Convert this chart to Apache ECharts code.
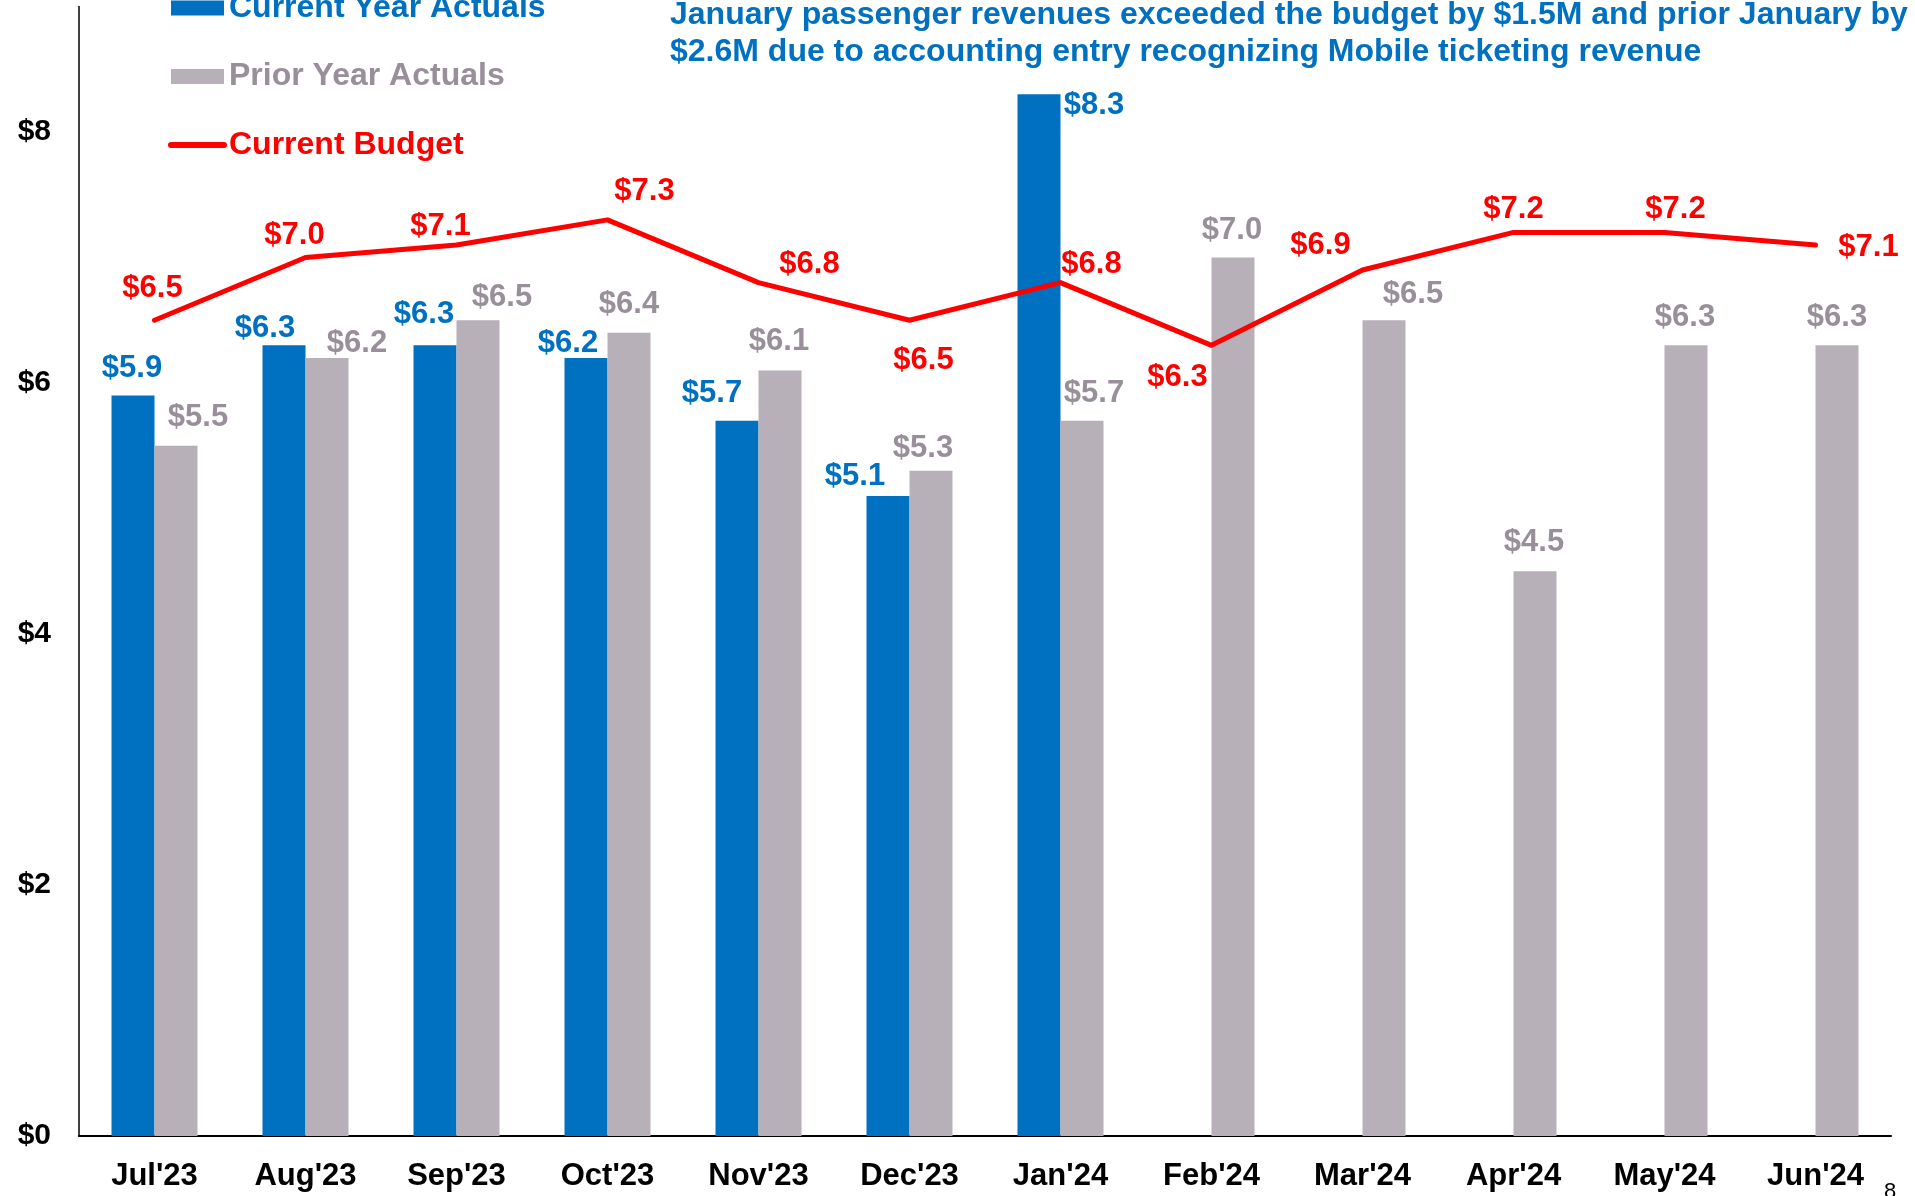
<!DOCTYPE html>
<html>
<head>
<meta charset="utf-8">
<script src="https://cdn.jsdelivr.net/npm/echarts@6/dist/echarts.min.js"></script>
<style>
html,body{margin:0;padding:0;background:#fff;}
#chart{width:1915px;height:1196px;}
</style>
</head>
<body>
<div id="chart"></div>
<script>
// ---- data ----
const categories = ["Jul'23","Aug'23","Sep'23","Oct'23","Nov'23","Dec'23","Jan'24","Feb'24","Mar'24","Apr'24","May'24","Jun'24"];
const currentYear = [5.9, 6.3, 6.3, 6.2, 5.7, 5.1, 8.3, null, null, null, null, null];
const priorYear = [5.5, 6.2, 6.5, 6.4, 6.1, 5.3, 5.7, 7.0, 6.5, 4.5, 6.3, 6.3];
const budget = [6.5, 7.0, 7.1, 7.3, 6.8, 6.5, 6.8, 6.3, 6.9, 7.2, 7.2, 7.1];
const yTicks = [0, 2, 4, 6, 8];
const seriesNames = ["Current Year Actuals", "Prior Year Actuals", "Current Budget"];
const noteLines = [
  "January passenger revenues exceeded the budget by $1.5M and prior January by",
  "$2.6M due to accounting entry recognizing Mobile ticketing revenue"
];
const pageNumber = "8";

// ---- label placement (style only) ----
const currentLabelOffsets = [[-1,-30],[-19,-19],[-11,-33],[-18,-17],[-25,-30],[-33,-22],[55,9]];
const priorLabelOffsets = [[22,-31],[30,-17],[24,-25],[0,-31],[-1,-31],[-8,-25],[12,-30],[-1,-30],[29,-28],[-1,-31],[-1,-30],[0,-30]];
const budgetLabelOffsets = [[-2,-34],[-11,-25],[-16,-21],[37,-31],[51,-21],[14,38],[31,-21],[-34,30],[-42,-27],[0,-25],[11,-25],[53,0]];
const DY = 2.5;
const shift = o => [o[0], o[1] + DY];

const FONT = 'Liberation Sans';
const BLUE = '#0070C0', GRAY = '#B7B0B8', GRAYTXT = '#998F9A', RED = '#FF0000';
const fmt = p => '$' + Number(p.value).toFixed(1);

const barLabel = (color) => ({
  show: true, position: ['50%', 0], align: 'center', verticalAlign: 'middle',
  color: color, fontFamily: FONT, fontWeight: 'bold', fontSize: 31, formatter: fmt
});

const chart = echarts.init(document.getElementById('chart'), null, {renderer: 'canvas'});
chart.setOption({
  animation: false,
  backgroundColor: '#fff',
  grid: {left: 79, right: 24, top: 6.5, bottom: 60, containLabel: false},
  legend: {
    orient: 'vertical', left: 168, top: -8, padding: 0,
    itemWidth: 53, itemHeight: 15, itemGap: 36.5,
    data: [
      {name: seriesNames[0], icon: 'rect', textStyle: {color: BLUE}},
      {name: seriesNames[1], icon: 'rect', textStyle: {color: GRAYTXT}},
      {name: seriesNames[2], itemStyle: {opacity: 0}, lineStyle: {width: 6, cap: 'round'}, textStyle: {color: RED}}
    ],
    textStyle: {fontFamily: FONT, fontWeight: 'bold', fontSize: 32, lineHeight: 32}
  },
  xAxis: {
    type: 'category', data: categories,
    axisLine: {show: true, lineStyle: {color: '#000', width: 2}},
    axisTick: {show: false},
    axisLabel: {color: '#000', fontFamily: FONT, fontWeight: 'bold', fontSize: 31, lineHeight: 31, margin: 25, interval: 0}
  },
  yAxis: {
    type: 'value', min: 0, max: 9, interval: 2,
    axisLine: {show: true, lineStyle: {color: '#000', width: 1.5}},
    axisTick: {show: false},
    splitLine: {show: false},
    axisLabel: {
      color: '#000', fontFamily: FONT, fontWeight: 'bold', fontSize: 30, margin: 28,
      formatter: v => yTicks.indexOf(v) >= 0 ? '$' + v : ''
    }
  },
  series: [
    {
      name: seriesNames[0], type: 'bar', barWidth: 43, barGap: '0%',
      itemStyle: {color: BLUE},
      label: barLabel(BLUE),
      data: currentYear.map((v, i) => v == null ? null : {value: v, label: {offset: shift(currentLabelOffsets[i])}})
    },
    {
      name: seriesNames[1], type: 'bar', barWidth: 43, barGap: '0%',
      itemStyle: {color: GRAY},
      label: barLabel(GRAYTXT),
      data: priorYear.map((v, i) => ({value: v, label: {offset: shift(priorLabelOffsets[i])}}))
    },
    {
      name: seriesNames[2], type: 'line', z: 5,
      symbol: 'circle', symbolSize: 1, showSymbol: true,
      itemStyle: {color: RED},
      lineStyle: {color: RED, width: 5, cap: 'round', join: 'round'},
      label: {show: true, position: 'inside', color: RED, fontFamily: FONT, fontWeight: 'bold', fontSize: 31, formatter: fmt},
      data: budget.map((v, i) => ({value: v, label: {offset: shift(budgetLabelOffsets[i])}}))
    }
  ],
  graphic: [
    {
      type: 'text', left: 670, top: -3, z: 10,
      style: {text: noteLines.join('\n'), fill: BLUE, font: 'bold 32px "Liberation Sans"', lineHeight: 37}
    },
    {
      type: 'text', left: 1884, top: 1181, z: 10,
      style: {text: pageNumber, fill: '#000', font: '22px "Liberation Sans"'}
    }
  ]
});
</script>
</body>
</html>
